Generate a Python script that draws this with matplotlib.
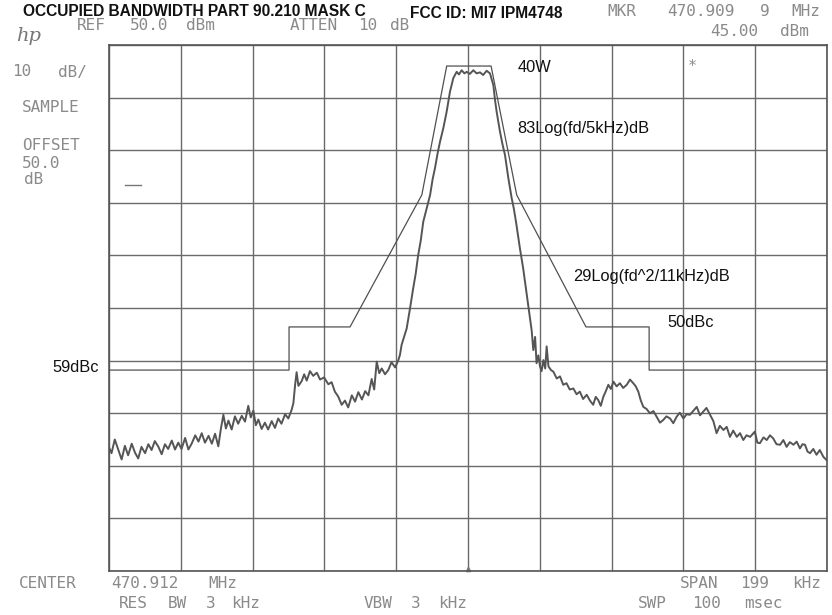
import matplotlib
matplotlib.use("Agg")
import matplotlib.pyplot as plt
import numpy as np

# spectrum trace, offset from center (kHz) vs level (dBm)
freq_khz = [
    -99.5, -98.8, -97.9, -96.9, -96.0, -95.1, -94.2, -93.2, -92.3, -91.4,
    -90.5, -89.5, -88.6, -87.7, -86.8, -85.8, -84.9, -84.0, -83.1, -82.1,
    -81.2, -80.3, -79.4, -78.4, -77.5, -76.6, -75.6, -74.7, -73.8, -72.9,
    -71.9, -71.0, -70.1, -69.2, -68.5, -67.8, -67.1, -66.4, -65.5, -64.6,
    -63.7, -62.7, -61.8, -60.9, -60.2, -59.5, -58.8, -58.1, -57.2, -56.3,
    -55.4, -54.4, -53.5, -52.6, -51.7, -50.7, -49.8, -48.9, -48.4, -47.9,
    -47.5, -47.0, -46.1, -45.4, -44.7, -43.8, -42.9, -41.9, -41.0, -39.9,
    -38.7, -37.8, -36.9, -36.0, -35.0, -34.1, -33.2, -32.2, -31.3, -30.4,
    -29.4, -28.5, -27.6, -26.7, -26.0, -25.3, -24.6, -23.9, -23.0, -22.1,
    -21.2, -20.2, -19.3, -18.85, -18.4, -17.0, -16.1, -15.2, -14.5, -13.8,
    -13.1, -12.4, -11.5, -10.5, -9.8, -9.15, -8.4, -7.76, -6.84, -5.92,
    -5.0, -4.07, -3.14, -2.5, -1.76, -1.0, -0.37, 0.5, 1.48, 2.4,
    3.32, 4.2, 5.17, 6.09, 7.02, 7.5, 7.94, 8.87, 9.6, 10.25,
    11.18, 12.1, 12.7, 13.3, 14.4, 15.3, 16.3, 17.2, 17.65, 18.1,
    18.6, 19.0, 19.5, 19.96, 20.4, 20.9, 21.4, 21.8, 22.3, 23.0,
    23.65, 24.6, 25.5, 26.4, 27.3, 28.2, 29.2, 30.1, 31.0, 31.9,
    32.9, 33.8, 34.7, 35.4, 36.1, 36.8, 37.5, 38.2, 38.9, 39.6,
    40.3, 41.2, 42.1, 43.0, 44.0, 44.9, 45.8, 46.5, 47.2, 47.9,
    48.6, 49.5, 50.4, 51.4, 52.3, 53.2, 54.1, 55.0, 56.0, 56.9,
    57.8, 58.7, 59.7, 60.6, 61.5, 62.4, 63.4, 64.3, 65.2, 66.1,
    67.1, 68.0, 68.9, 69.8, 70.8, 71.7, 72.6, 73.5, 74.5, 75.4,
    76.3, 77.2, 78.2, 79.5, 80.2, 80.9, 81.9, 82.8, 83.7, 84.6,
    85.5, 86.5, 87.4, 88.3, 89.2, 90.2, 91.1, 92.0, 92.7, 93.4,
    94.1, 94.8, 95.7, 96.6, 97.5, 98.5, 99.5,
]
level_dbm = [
    -26.5, -27.6, -25.0, -27.0, -28.8, -26.2, -28.0, -25.8, -27.5, -28.6,
    -26.4, -27.6, -25.9, -27.0, -25.3, -26.4, -27.8, -25.9, -26.8, -25.2,
    -26.9, -25.6, -26.8, -24.7, -26.9, -25.8, -24.2, -25.4, -23.8, -25.6,
    -24.3, -25.8, -23.9, -26.3, -23.0, -20.3, -22.9, -21.4, -23.1, -20.6,
    -22.0, -20.5, -21.6, -18.6, -20.8, -19.5, -22.3, -21.2, -23.0, -21.8,
    -23.1, -21.5, -22.8, -21.0, -22.0, -20.2, -21.0, -19.4, -18.1, -14.5,
    -12.2, -14.8, -13.9, -12.6, -13.8, -12.0, -12.9, -12.3, -13.6, -13.2,
    -14.5, -14.1, -15.9, -16.8, -18.4, -17.6, -18.9, -16.6, -17.8, -16.0,
    -17.4, -15.8, -16.6, -13.5, -15.5, -10.2, -12.4, -11.5, -12.6, -11.8,
    -10.3, -11.3, -9.9, -8.9, -7.0, -3.9, -0.2, 3.7, 6.5, 10.1,
    12.8, 16.4, 18.8, 21.5, 24.5, 26.6, 29.5, 31.6, 34.2, 37.3,
    41.1, 43.7, 44.9, 44.4, 45.2, 44.6, 44.9, 44.5, 45.2, 44.6,
    44.8, 44.3, 45.1, 44.6, 42.4, 39.5, 37.3, 33.5, 31.0, 29.1,
    24.7, 20.9, 18.9, 16.4, 11.3, 7.5, 2.5, -2.0, -4.3, -8.0,
    -5.5, -10.5, -9.0, -11.1, -12.0, -9.9, -11.5, -7.3, -11.1, -11.8,
    -12.1, -13.4, -13.0, -14.6, -14.3, -15.5, -15.3, -16.4, -15.9, -17.3,
    -16.5, -17.6, -18.4, -16.9, -17.5, -18.6, -16.9, -15.8, -14.6, -15.4,
    -14.0, -14.9, -14.3, -15.2, -14.6, -13.6, -14.3, -14.9, -15.9, -17.6,
    -18.8, -19.2, -20.0, -19.6, -20.7, -21.8, -21.3, -20.6, -21.0, -21.9,
    -20.7, -19.9, -21.0, -20.2, -20.3, -19.6, -18.8, -20.4, -19.7, -19.0,
    -20.3, -21.5, -23.8, -22.4, -23.2, -22.6, -24.5, -23.3, -24.5, -23.8,
    -25.1, -24.2, -24.5, -23.5, -25.6, -25.7, -24.6, -25.1, -24.2, -24.8,
    -25.9, -26.0, -25.1, -26.4, -25.5, -26.0, -25.4, -26.7, -25.9, -26.0,
    -27.3, -27.6, -26.8, -27.9, -27.0, -28.3, -29.0,
]

# emission mask C (kHz, dBm)
mask_khz = [-99.5, -49.6, -49.6, -32.7, -12.8, -5.9, 6.4, 13.5, 32.7, 50.2, 50.2, 99.5]
mask_dbm = [-11.8, -11.8, -3.6, -3.6, 21.5, 46.0, 46.0, 21.5, -3.6, -3.6, -11.8, -11.8]

span_khz = 199.0
ref_dbm = 50.0
db_per_div = 10

W, H = 832, 615
fig = plt.figure(figsize=(W / 100, H / 100), dpi=100)
fig.patch.set_facecolor("white")


def fxy(x, y):
    return x / W, 1 - y / H


ax = fig.add_axes([109 / W, 1 - 571 / H, 718 / W, 526 / H])
ax.set_xlim(-span_khz / 2, span_khz / 2)
ax.set_ylim(ref_dbm - 10 * db_per_div, ref_dbm)
ax.set_xticks(np.linspace(-span_khz / 2, span_khz / 2, 11))
ax.set_yticks(np.arange(ref_dbm - 10 * db_per_div, ref_dbm + 1, db_per_div))
ax.grid(True, color="#6a6a6a", lw=1.0)
ax.tick_params(length=0, labelbottom=False, labelleft=False)
for s in ax.spines.values():
    s.set_color("#555555")
    s.set_linewidth(1.2)

ax.plot(mask_khz, mask_dbm, color="#505050", lw=0.9)
ax.plot(freq_khz, level_dbm, color="#555555", lw=1.4)

# small reference marks
ax.plot([0.022, 0.045], [0.734, 0.734], color="#777777", lw=1.0, transform=ax.transAxes)
ax.plot([0.5], [0.004], marker="^", ms=3, color="#777777", transform=ax.transAxes, clip_on=False)

# header / annotations in black
sans = "Liberation Sans"
fig.text(*fxy(23, 12), "OCCUPIED BANDWIDTH PART 90.210 MASK C", fontsize=11.2,
         fontweight="bold", family=sans, va="center", ha="left", color="#111111")
fig.text(*fxy(410, 14), "FCC ID: MI7 IPM4748", fontsize=11.2, fontweight="bold",
         family=sans, va="center", ha="left", color="#111111")
lab = dict(fontsize=11.8, family=sans, va="center", color="#111111")
fig.text(*fxy(518, 67), "40W", **lab)
fig.text(*fxy(517, 128), "83Log(fd/5kHz)dB", **lab)
fig.text(*fxy(573, 277), "29Log(fd^2/11kHz)dB", **lab)
fig.text(*fxy(667, 323), "50dBc", **lab)
fig.text(*fxy(52, 367), "59dBc", **lab)

# analyzer annotations, plotter font, placed word by word
mono = "DejaVu Sans Mono"
grey = "#8a8a8a"
words = [
    ("REF", 91, 26), ("50.0", 149, 26), ("dBm", 200, 26),
    ("ATTEN", 314, 26), ("10", 368, 26), ("dB", 400, 26),
    ("MKR", 622, 11), ("470.909", 701, 11), ("9", 765, 11), ("MHz", 806, 11),
    ("45.00", 734, 31), ("dBm", 794, 31),
    ("10", 22, 72), ("dB/", 72, 72),
    ("SAMPLE", 51, 108),
    ("OFFSET", 51, 146), ("50.0", 41, 163), ("dB", 34, 180),
    ("CENTER", 48, 584), ("470.912", 145, 584), ("MHz", 223, 584),
    ("SPAN", 699, 584), ("199", 755, 584), ("kHz", 807, 584),
    ("RES", 133, 603), ("BW", 177, 603), ("3", 211, 603), ("kHz", 246, 603),
    ("VBW", 378, 603), ("3", 416, 603), ("kHz", 453, 603),
    ("SWP", 652, 603), ("100", 706, 603), ("msec", 763, 603),
]
for w, x, y in words:
    fig.text(*fxy(x, y), w, fontsize=11.5, family=mono, color=grey,
             ha="center", va="center")

fig.text(*fxy(692, 67), "*", fontsize=11, family=mono, color=grey, ha="center", va="center")
fig.text(*fxy(29, 36), "hp", fontsize=14, family="DejaVu Serif", style="italic",
         color="#777777", ha="center", va="center")

fig.savefig("out.png", dpi=100, facecolor="white")
